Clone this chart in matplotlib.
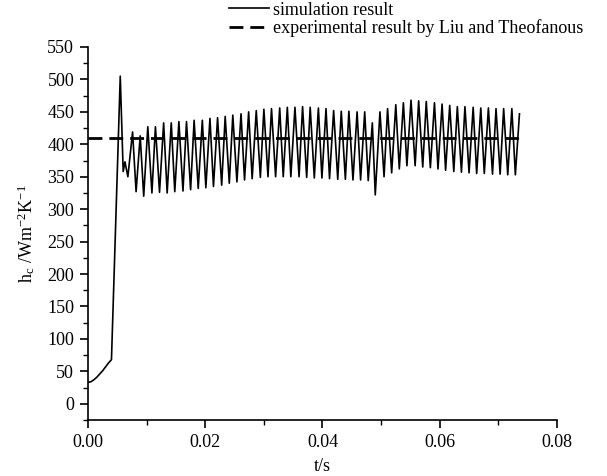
import matplotlib
matplotlib.use("Agg")
import matplotlib.pyplot as plt
from matplotlib.ticker import MultipleLocator
import numpy as np

plt.rcParams['font.family'] = ['Liberation Serif', 'DejaVu Serif']
plt.rcParams['mathtext.fontset'] = 'stix'

# start-up part of the simulation (t in s, h in W/m2K)
t_start = [0.0, 0.0005, 0.0010, 0.0015, 0.0020, 0.0025, 0.0030, 0.0035, 0.0040,
           0.0055, 0.0060, 0.0063, 0.0068]
h_start = [33, 34, 37, 41, 46, 51, 57, 63, 68,
           505, 358, 373, 350]

# oscillation peaks
t_peak = [0.0076, 0.0089, 0.0102, 0.0115, 0.0129, 0.0142, 0.0155, 0.0168, 0.0181, 0.0195,
          0.0208, 0.0221, 0.0234, 0.0247, 0.0261, 0.0274, 0.0287, 0.0300, 0.0313, 0.0327,
          0.0340, 0.0353, 0.0366, 0.0379, 0.0393, 0.0406, 0.0419, 0.0432, 0.0445, 0.0459,
          0.0472, 0.0485, 0.0498, 0.0511, 0.0525, 0.0538, 0.0551, 0.0564, 0.0577, 0.0591,
          0.0604, 0.0617, 0.0630, 0.0643, 0.0657, 0.0670, 0.0683, 0.0696, 0.0709, 0.0723,
          0.0736]
h_peak = [419, 413, 427, 427, 433, 433, 435, 435, 437, 437,
          440, 441, 443, 445, 447, 450, 452, 454, 455, 456,
          457, 457, 458, 457, 456, 455, 452, 451, 451, 450,
          450, 433, 450, 455, 461, 464, 468, 467, 466, 464,
          462, 460, 458, 458, 457, 456, 456, 455, 455, 455,
          447]
# oscillation troughs (between consecutive peaks)
t_trough = [0.0082, 0.0095, 0.0109, 0.0122, 0.0135, 0.0148, 0.0162, 0.0175, 0.0188, 0.0201,
            0.0214, 0.0228, 0.0241, 0.0254, 0.0267, 0.0280, 0.0294, 0.0307, 0.0320, 0.0333,
            0.0346, 0.0360, 0.0373, 0.0386, 0.0399, 0.0412, 0.0426, 0.0439, 0.0452, 0.0465,
            0.0478, 0.0490, 0.0505, 0.0518, 0.0531, 0.0544, 0.0558, 0.0571, 0.0584, 0.0597,
            0.0610, 0.0624, 0.0637, 0.0650, 0.0663, 0.0676, 0.0690, 0.0703, 0.0716, 0.0729]
h_trough = [327, 320, 325, 326, 325, 327, 328, 330, 332, 333,
            335, 337, 340, 342, 345, 347, 349, 350, 350, 350,
            350, 350, 349, 348, 348, 347, 346, 346, 345, 345,
            344, 322, 350, 356, 362, 367, 367, 365, 364, 362,
            360, 358, 357, 356, 355, 355, 354, 354, 353, 353]

t_exp = [0.0, 0.0745]
h_exp = [410, 410]

# assemble simulation curve
t_sim = list(t_start)
h_sim = list(h_start)
for i in range(len(t_peak)):
    t_sim.append(t_peak[i]); h_sim.append(h_peak[i])
    if i < len(t_trough):
        t_sim.append(t_trough[i]); h_sim.append(h_trough[i])

fig = plt.figure(figsize=(6.07, 4.76), dpi=100)
ax = fig.add_axes([0.145, 0.1176, 0.7726, 0.7837])

l1, = ax.plot(t_sim, h_sim, color='black', lw=1.2, label='simulation result')
l2, = ax.plot(t_exp, h_exp, color='black', lw=2.0, dashes=(5, 2.5),
              label='experimental result by Liu and Theofanous')

ax.set_xlim(0, 0.08)
ax.set_ylim(-25, 550)
ax.xaxis.set_minor_locator(MultipleLocator(0.01))
ax.yaxis.set_minor_locator(MultipleLocator(25))
ax.set_xticks(np.arange(0, 0.081, 0.02))
ax.set_xticklabels(['0.00', '0.02', '0.04', '0.06', '0.08'])
ax.set_yticks(np.arange(0, 551, 50))

for s in ['top', 'right']:
    ax.spines[s].set_visible(False)
for s in ['left', 'bottom']:
    ax.spines[s].set_linewidth(1.2)
ax.tick_params(which='major', direction='out', length=6, width=1.2, labelsize=13, pad=4)
ax.tick_params(which='minor', direction='out', length=3.5, width=1.0)

ax.set_xlabel('t/s', fontsize=13, labelpad=5)
ax.set_ylabel(r'h$_\mathregular{c}$ /Wm$^{\mathregular{-2}}$K$^{\mathregular{-1}}$', fontsize=13, labelpad=7)

fig.legend(handles=[l1, l2], loc='upper left', bbox_to_anchor=(0.366, 1.012),
           frameon=False, fontsize=13, handlelength=2.2, handletextpad=0.2,
           labelspacing=0.05, borderaxespad=0)

fig.savefig('out.png', dpi=100)
